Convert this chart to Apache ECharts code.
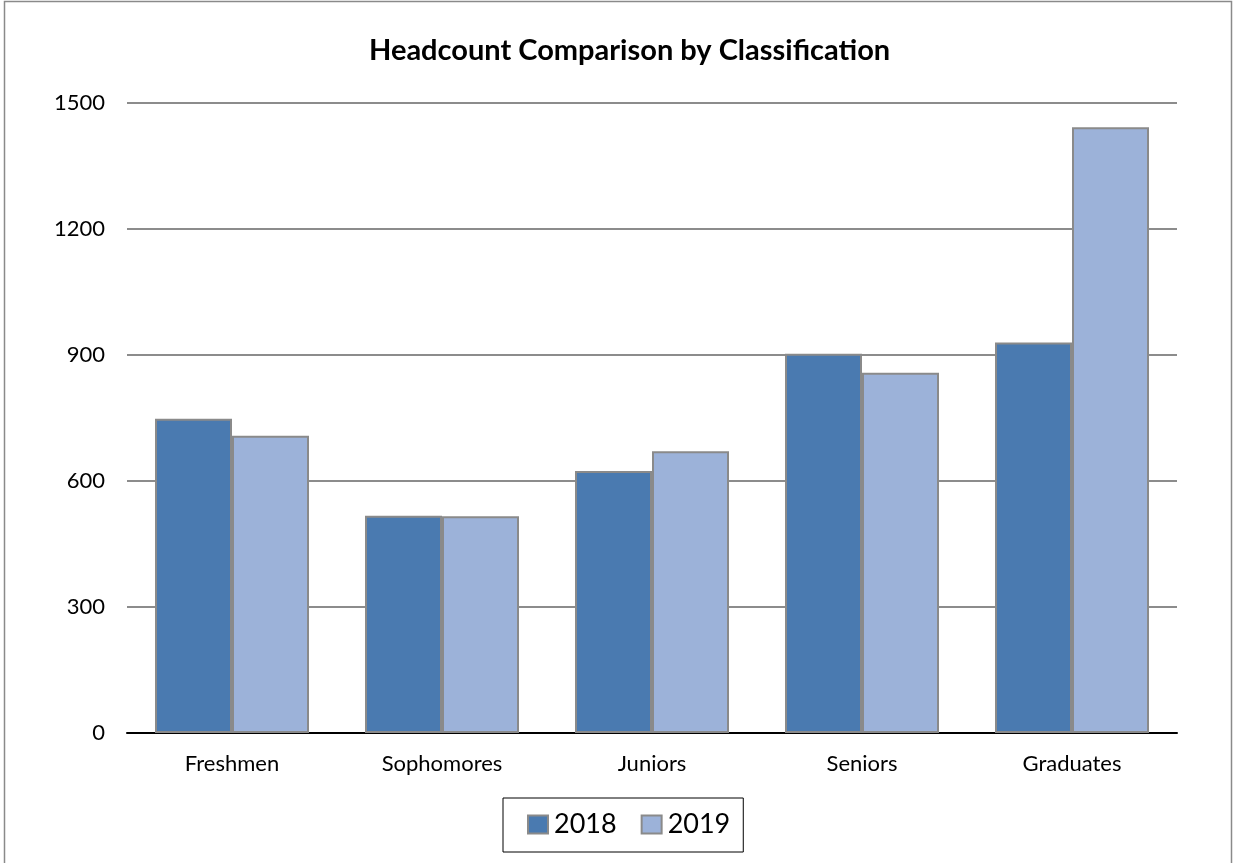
<!DOCTYPE html>
<html>
<head>
<meta charset="utf-8">
<script src="https://cdn.jsdelivr.net/npm/echarts@6/dist/echarts.min.js"></script>
<style>
html,body{margin:0;padding:0;background:#fff;}
#chart{width:1234px;height:863px;}
</style>
</head>
<body>
<div id="chart"></div>
<script>
const categories = ['Freshmen', 'Sophomores', 'Juniors', 'Seniors', 'Graduates'];
const values2018 = [748, 517, 624, 903, 930];
const values2019 = [708, 516, 671, 858, 1442];
const seriesNames = ['2018', '2019'];
const yTicks = [0, 300, 600, 900, 1200, 1500];

const FONT = 'Lato, "Open Sans", sans-serif';
const chart = echarts.init(document.getElementById('chart'), null, {renderer: 'canvas'});
chart.setOption({
  animation: false,
  backgroundColor: '#fff',
  graphic: [{
    type: 'rect', silent: true,
    shape: {x: 4.5, y: 1.5, width: 1227, height: 870},
    style: {fill: 'none', stroke: '#8a8a8a', lineWidth: 1.5}
  }],
  title: {
    text: 'Headcount Comparison by Classification',
    left: 364, top: 31,
    textStyle: {fontFamily: FONT, fontWeight: 'bold', fontSize: 29, color: '#000'}
  },
  legend: {
    data: seriesNames,
    left: 503, top: 798,
    padding: [13, 13, 14, 24],
    itemGap: 24, itemWidth: 20, itemHeight: 18,
    borderColor: '#000', borderWidth: 1,
    icon: 'rect',
    textStyle: {fontFamily: FONT, fontSize: 27, color: '#000', padding: [0, 0, 0, 1]}
  },
  grid: {left: 127, right: 57, top: 103, bottom: 130, containLabel: false},
  xAxis: {
    type: 'category', data: categories,
    axisLine: {show: true, lineStyle: {color: '#000', width: 2}},
    axisTick: {show: false},
    axisLabel: {margin: 20, fontFamily: FONT, fontSize: 22, color: '#000'}
  },
  yAxis: {
    type: 'value', min: yTicks[0], max: yTicks[yTicks.length - 1], interval: yTicks[1] - yTicks[0],
    axisLine: {show: false}, axisTick: {show: false},
    axisLabel: {margin: 22, fontFamily: FONT, fontSize: 22, color: '#000', formatter: v => String(v)},
    splitLine: {lineStyle: {color: '#8c8c8c', width: 2}}
  },
  series: [
    {name: seriesNames[0], type: 'bar', data: values2018, barWidth: 77, barGap: '0%',
     itemStyle: {color: '#4a7ab0', borderColor: '#8a8a8a', borderWidth: 2}},
    {name: seriesNames[1], type: 'bar', data: values2019, barWidth: 77, barGap: '0%',
     itemStyle: {color: '#9cb2d9', borderColor: '#8a8a8a', borderWidth: 2}}
  ]
});
</script>
</body>
</html>
